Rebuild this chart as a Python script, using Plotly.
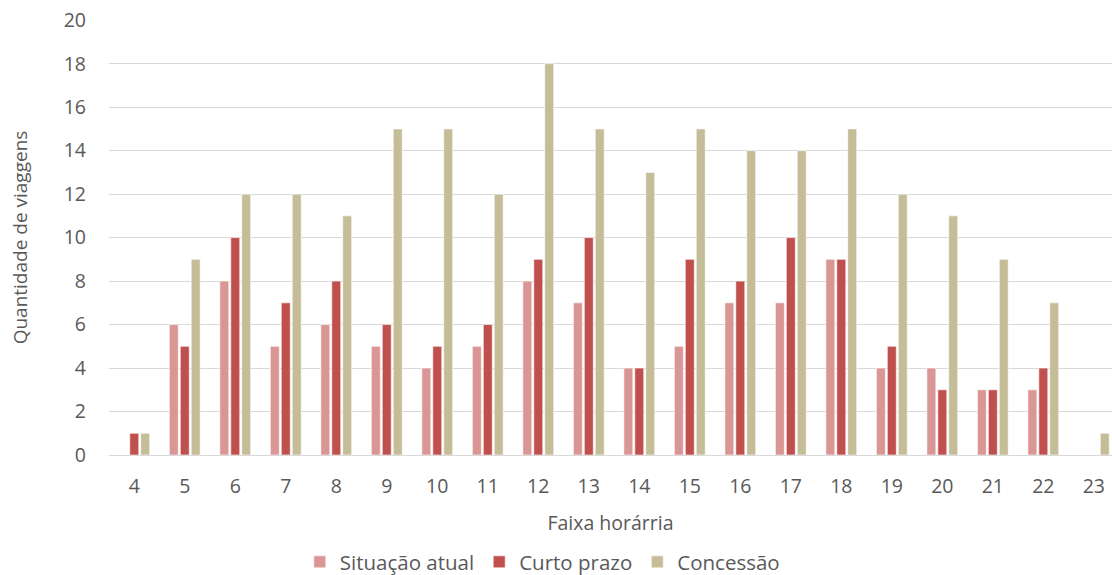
import plotly.graph_objects as go

horas = [str(h) for h in range(4, 24)]
situacao_atual = [0, 6, 8, 5, 6, 5, 4, 5, 8, 7, 4, 5, 7, 7, 9, 4, 4, 3, 3, 0]
curto_prazo = [1, 5, 10, 7, 8, 6, 5, 6, 9, 10, 4, 9, 8, 10, 9, 5, 3, 3, 4, 0]
concessao = [1, 9, 12, 12, 11, 15, 15, 12, 18, 15, 13, 15, 14, 14, 15, 12, 11, 9, 7, 1]

series = [
    ("Situação atual", situacao_atual, "#DA9694"),
    ("Curto prazo", curto_prazo, "#C0504D"),
    ("Concessão", concessao, "#C4BD97"),
]

fig = go.Figure()
for name, vals, color in series:
    fig.add_trace(go.Bar(
        x=horas, y=vals, name=name,
        marker=dict(color=color, line=dict(color="rgba(255,255,255,0.6)", width=1)),
    ))

font = "Open Sans, Calibri, sans-serif"
fig.update_layout(
    width=1112, height=575,
    margin=dict(l=109, r=0, t=20, b=120, autoexpand=False),
    paper_bgcolor="white",
    plot_bgcolor="white",
    barmode="group",
    bargap=0.35,
    bargroupgap=0.18,
    font=dict(family=font, color="#595959", size=19),
    legend=dict(orientation="h", x=0.432, xanchor="center", y=-0.246, yanchor="middle",
                font=dict(size=20.5), itemwidth=30, traceorder="normal"),
)
fig.update_xaxes(
    type="category", range=[-0.5, 19.36], showgrid=False, showline=False, ticks="",
    title=dict(text="Faixa horárria", font=dict(size=19.5), standoff=18),
    tickfont=dict(size=19.5), ticklabelstandoff=17,
)
fig.update_yaxes(
    range=[0, 20.01], tickvals=list(range(0, 21, 2)), ticklabeloverflow="allow",
    showgrid=True, gridcolor="#D9D9D9", gridwidth=1,
    zeroline=True, zerolinecolor="#D9D9D9", zerolinewidth=1,
    ticks="", ticklabelstandoff=22,
    title=dict(text="Quantidade de viaggens", font=dict(size=19), standoff=31),
    tickfont=dict(size=19.5),
)

# drop the default 8px body margin so the figure fills the window
fig.write_html(
    "out.html",
    config={"displayModeBar": False},
    post_script="document.body.style.margin='0';",
)
